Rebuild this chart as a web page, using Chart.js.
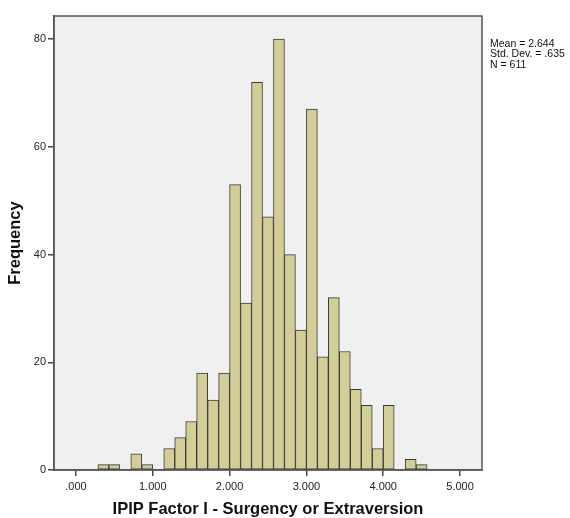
<!DOCTYPE html>
<html>
<head>
<meta charset="utf-8">
<title>Histogram</title>
<script src="https://cdn.jsdelivr.net/npm/chart.js@4.4.1/dist/chart.umd.min.js"></script>
<style>
  body{margin:0;background:#fff;}
  canvas{display:block;}
</style>
</head>
<body>
<canvas id="chart" width="570" height="518"></canvas>
<script>
// bins are 1/7 wide, starting at 0 (bin k covers k/7 .. (k+1)/7)
const binWidth = 1/7;
const frequencies = [0,0,1,1,0,3,1,0,4,6,9,18,13,18,53,31,72,47,80,40,26,67,21,32,22,15,12,4,12,0,2,1];
const xTickValues = [0,1,2,3,4,5];
const yTickValues = [0,20,40,60,80];
const statsLines = ['Mean = 2.644','Std. Dev. = .635','N = 611'];
const xTitle = 'IPIP Factor I - Surgency or Extraversion';
const yTitle = 'Frequency';

const points = frequencies.map((f,k)=>({x:(k+0.5)*binWidth, y:f}));

// grey plot background + frame + stats box text
const plotFrame = {
  id:'plotFrame',
  beforeDraw(chart){
    const {ctx, chartArea:a} = chart;
    ctx.save();
    ctx.fillStyle = '#fff';
    ctx.fillRect(0,0,chart.width,chart.height);
    ctx.fillStyle = '#f0f0f0';
    ctx.fillRect(a.left,a.top,a.right-a.left,a.bottom-a.top);
    ctx.restore();
  },
  afterDraw(chart){
    const {ctx, chartArea:a} = chart;
    ctx.save();
    ctx.strokeStyle = '#555';
    ctx.lineWidth = 1.5;
    ctx.strokeRect(a.left,a.top,a.right-a.left,a.bottom-a.top);
    ctx.fillStyle = '#111';
    ctx.font = '10.5px "Liberation Sans", Arial, sans-serif';
    ctx.textBaseline = 'alphabetic';
    statsLines.forEach((t,i)=>{
      ctx.fillText(t, a.right+8, 47+i*10.3);
    });
    ctx.restore();
  }
};

const tickFont = {family:'"Liberation Sans", Arial, sans-serif', size:11};
const titleFont = {family:'"Liberation Sans", Arial, sans-serif', size:16.5, weight:'bold', lineHeight:1};

new Chart(document.getElementById('chart'), {
  type:'bar',
  data:{
    datasets:[{
      data:points,
      backgroundColor:'#d3ce97',
      borderColor:'#3a3a3a',
      borderWidth:1,
      borderSkipped:false,
      barPercentage:1,
      categoryPercentage:1
    }]
  },
  options:{
    responsive:false,
    animation:false,
    layout:{padding:{top:16,right:88,left:0,bottom:0}},
    plugins:{legend:{display:false},tooltip:{enabled:false}},
    scales:{
      x:{
        type:'linear',
        offset:false,
        min:-0.286,
        max:5.286,
        afterBuildTicks:(s)=>{ s.ticks = xTickValues.map(v=>({value:v})); },
        afterFit:(s)=>{ s.height = 48; },
        ticks:{
          font:tickFont, color:'#222', padding:4, maxRotation:0, autoSkip:false,
          callback:(v)=> v===0 ? '.000' : Number(v).toFixed(3)
        },
        grid:{offset:false, drawOnChartArea:false, drawTicks:true, tickLength:6, color:'#444', lineWidth:1.5},
        border:{display:true, color:'#555', width:1.5},
        title:{display:true, text:xTitle, font:titleFont, color:'#111', padding:{top:0,bottom:0}}
      },
      y:{
        min:0,
        max:84.3,
        afterBuildTicks:(s)=>{ s.ticks = yTickValues.map(v=>({value:v})); },
        afterFit:(s)=>{ s.width = 54; },
        ticks:{font:tickFont, color:'#222', padding:2},
        grid:{drawOnChartArea:false, drawTicks:true, tickLength:6, color:'#444', lineWidth:1.5},
        border:{display:true, color:'#555', width:1.5},
        title:{display:true, text:yTitle, font:titleFont, color:'#111', padding:{top:7,bottom:0}}
      }
    }
  },
  plugins:[plotFrame]
});
</script>
</body>
</html>
